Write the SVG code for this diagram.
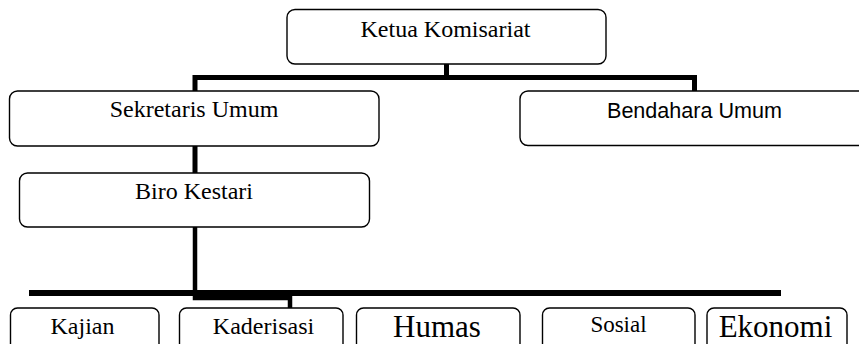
<svg xmlns="http://www.w3.org/2000/svg" width="859" height="344" viewBox="0 0 859 344">
<style>
.box{fill:#fff;stroke:#000;stroke-width:1.4}
.t{font-family:"Liberation Serif","Times New Roman",serif;fill:#000;text-anchor:middle}
.s{font-family:"Liberation Sans",Arial,sans-serif;fill:#000;text-anchor:middle}
.c{fill:none;stroke:#000;stroke-linejoin:miter;stroke-linecap:butt}
</style>
<rect width="859" height="344" fill="#fff"/>
<g id="connectors">
<path class="c" stroke-width="5" d="M446.5 64 V77.5 M195 91 V77.5 H694.5 V91"/>
<path class="c" stroke-width="5" d="M195 146 V173"/>
<path class="c" stroke-width="6" d="M29 293 H781"/>
<path class="c" stroke-width="4.5" d="M195 227 V298 H290 V308"/>
</g>
<g id="ketua">
<rect class="box" x="287" y="9.5" width="319" height="54.5" rx="8"/>
<text class="t" x="445.5" y="37" font-size="24">Ketua Komisariat</text>
</g>
<g id="sekretaris">
<rect class="box" x="9.5" y="91" width="369.5" height="55" rx="8"/>
<text class="t" x="194" y="117" font-size="24">Sekretaris Umum</text>
</g>
<g id="bendahara">
<rect class="box" x="520" y="91" width="360" height="54.5" rx="8"/>
<text class="s" x="694.5" y="118" font-size="22" textLength="175" lengthAdjust="spacingAndGlyphs">Bendahara Umum</text>
</g>
<g id="biro">
<rect class="box" x="19.5" y="173" width="350" height="54" rx="8"/>
<text class="t" x="194" y="199" font-size="24">Biro Kestari</text>
</g>
<g id="kajian">
<rect class="box" x="10.5" y="308" width="148.5" height="50" rx="7"/>
<text class="t" x="82.5" y="334" font-size="24">Kajian</text>
</g>
<g id="kaderisasi">
<rect class="box" x="179.5" y="308" width="163.5" height="50" rx="7"/>
<text class="t" x="263.5" y="334" font-size="24">Kaderisasi</text>
</g>
<g id="humas">
<rect class="box" x="356.5" y="308" width="163.5" height="50" rx="7"/>
<text class="t" x="437" y="337" font-size="31">Humas</text>
</g>
<g id="sosial">
<rect class="box" x="542.5" y="308" width="152.5" height="50" rx="7"/>
<text class="t" x="618.5" y="332" font-size="23">Sosial</text>
</g>
<g id="ekonomi">
<rect class="box" x="707" y="308" width="140" height="50" rx="7"/>
<text class="t" x="775.5" y="337" font-size="31">Ekonomi</text>
</g>
</svg>
